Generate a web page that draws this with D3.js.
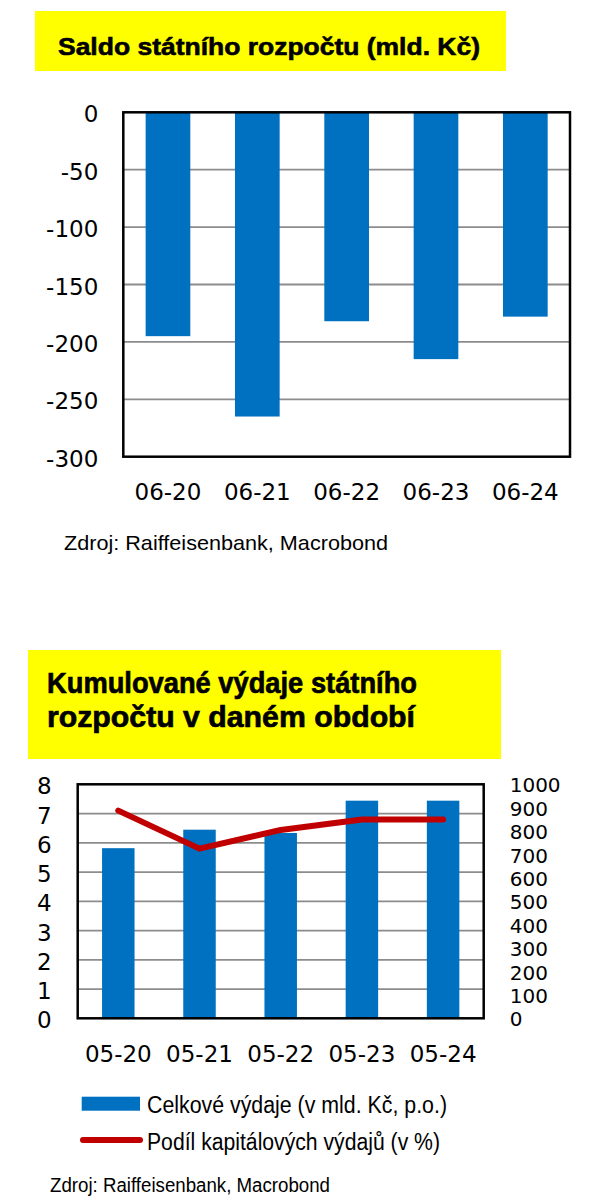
<!DOCTYPE html>
<html><head><meta charset="utf-8">
<script src="https://cdn.jsdelivr.net/npm/d3@7"></script>
<style>body{margin:0;background:#fff}svg{display:block}</style>
</head><body>
<script>
// ---- Data ----
const saldoCategories = ["06-20","06-21","06-22","06-23","06-24"];
const saldoValues = [-195,-265,-182,-215,-178];
const saldoTicks = [0,-50,-100,-150,-200,-250,-300];

const spendCategories = ["05-20","05-21","05-22","05-23","05-24"];
const spendTotals = [727,806,792,930,930];          // right axis, mld. Kč
const capitalShare = [7.1,5.8,6.44,6.8,6.8];        // left axis, %
const leftTicks = [0,1,2,3,4,5,6,7,8];
const rightTicks = [0,100,200,300,400,500,600,700,800,900,1000];

const title1 = "Saldo státního rozpočtu (mld. Kč)";
const title2a = "Kumulované výdaje státního";
const title2b = "rozpočtu v daném období";
const legendBars = "Celkové výdaje (v mld. Kč, p.o.)";
const legendLine = "Podíl kapitálových výdajů (v %)";
const sourceText = "Zdroj: Raiffeisenbank, Macrobond";

const BLUE = "#0070c0", RED = "#c00000", YELLOW = "#ffff00", GRID = "#8c8c8c";
const AX_FONT = "DejaVu Sans";
const TXT_FONT = "Liberation Sans";
const plain = d => String(d);

const svg = d3.select("body").append("svg").attr("width",602).attr("height",1200);

// ---- Chart 1 ----
svg.append("rect").attr("x",35).attr("y",11).attr("width",471).attr("height",60).attr("fill",YELLOW);
svg.append("text").attr("x",58).attr("y",55).text(title1)
  .attr("font-family",TXT_FONT).attr("font-weight","bold").attr("font-size",24.5)
  .attr("stroke","#000").attr("stroke-width",0.6)
  .attr("textLength",422).attr("lengthAdjust","spacingAndGlyphs");

const p1 = {l:123.3, r:570, t:112.3, b:456.7};
const x1 = d3.scaleBand().domain(saldoCategories).range([p1.l,p1.r]).paddingInner(0.5).paddingOuter(0.25);
const y1 = d3.scaleLinear().domain([-300,0]).range([p1.b,p1.t]);

const g1 = svg.append("g");
g1.selectAll("line.grid").data(saldoTicks.filter(d=>d!==0 && d!==-300)).join("line")
  .attr("x1",p1.l).attr("x2",p1.r).attr("y1",d=>y1(d)).attr("y2",d=>y1(d))
  .attr("stroke",GRID).attr("stroke-width",1.8);
g1.selectAll("rect.bar").data(saldoValues).join("rect")
  .attr("x",(d,i)=>x1(saldoCategories[i])).attr("width",x1.bandwidth())
  .attr("y",y1(0)).attr("height",d=>y1(d)-y1(0)).attr("fill",BLUE);
g1.append("rect").attr("x",p1.l).attr("y",p1.t).attr("width",p1.r-p1.l).attr("height",p1.b-p1.t)
  .attr("fill","none").attr("stroke","#000").attr("stroke-width",2.5);

const ay1 = d3.axisLeft(y1).tickValues(saldoTicks).tickFormat(plain).tickSize(0).tickPadding(25);
g1.append("g").attr("transform",`translate(${p1.l},0)`).call(ay1)
  .call(g=>g.select(".domain").remove())
  .selectAll("text").attr("font-family",AX_FONT).attr("font-size",23).attr("fill","#000").attr("dy","0.42em");
const ax1 = d3.axisBottom(x1).tickSize(0).tickPadding(27);
g1.append("g").attr("transform",`translate(0,${p1.b})`).call(ax1)
  .call(g=>g.select(".domain").remove())
  .selectAll("text").attr("font-family",AX_FONT).attr("font-size",23).attr("fill","#000");

svg.append("text").attr("x",64).attr("y",550).text(sourceText)
  .attr("font-family",TXT_FONT).attr("font-size",21)
  .attr("textLength",324).attr("lengthAdjust","spacingAndGlyphs");

// ---- Chart 2 ----
svg.append("rect").attr("x",28).attr("y",650).attr("width",473).attr("height",109).attr("fill",YELLOW);
svg.append("text").attr("x",47).attr("y",693.3).text(title2a)
  .attr("font-family",TXT_FONT).attr("font-weight","bold").attr("font-size",30)
  .attr("stroke","#000").attr("stroke-width",0.7)
  .attr("textLength",370).attr("lengthAdjust","spacingAndGlyphs");
svg.append("text").attr("x",47).attr("y",727.3).text(title2b)
  .attr("font-family",TXT_FONT).attr("font-weight","bold").attr("font-size",30)
  .attr("stroke","#000").attr("stroke-width",0.7)
  .attr("textLength",368).attr("lengthAdjust","spacingAndGlyphs");

const p2 = {l:77.7, r:483.7, t:784.3, b:1018.3};
const x2 = d3.scaleBand().domain(spendCategories).range([p2.l,p2.r]).paddingInner(0.6).paddingOuter(0.3);
const yL = d3.scaleLinear().domain([0,8]).range([p2.b,p2.t]);
const yR = d3.scaleLinear().domain([0,1000]).range([p2.b,p2.t]);

const g2 = svg.append("g");
g2.selectAll("line.grid").data(leftTicks.filter(d=>d>0 && d<8)).join("line")
  .attr("x1",p2.l).attr("x2",p2.r).attr("y1",d=>yL(d)).attr("y2",d=>yL(d))
  .attr("stroke",GRID).attr("stroke-width",1.8);
g2.selectAll("rect.bar").data(spendTotals).join("rect")
  .attr("x",(d,i)=>x2(spendCategories[i])).attr("width",x2.bandwidth())
  .attr("y",d=>yR(d)).attr("height",d=>yR(0)-yR(d)).attr("fill",BLUE);
const line = d3.line().x((d,i)=>x2(spendCategories[i])+x2.bandwidth()/2).y(d=>yL(d));
g2.append("path").datum(capitalShare).attr("d",line).attr("fill","none")
  .attr("stroke",RED).attr("stroke-width",6).attr("stroke-linecap","round").attr("stroke-linejoin","round");
g2.append("rect").attr("x",p2.l).attr("y",p2.t).attr("width",p2.r-p2.l).attr("height",p2.b-p2.t)
  .attr("fill","none").attr("stroke","#000").attr("stroke-width",2.5);

const ayL = d3.axisLeft(yL).tickValues(leftTicks).tickFormat(plain).tickSize(0).tickPadding(26);
g2.append("g").attr("transform",`translate(${p2.l},0)`).call(ayL)
  .call(g=>g.select(".domain").remove())
  .selectAll("text").attr("font-family",AX_FONT).attr("font-size",23).attr("fill","#000").attr("dy","0.42em");
const ayR = d3.axisRight(yR).tickValues(rightTicks).tickFormat(plain).tickSize(0).tickPadding(26);
g2.append("g").attr("transform",`translate(${p2.r},0)`).call(ayR)
  .call(g=>g.select(".domain").remove())
  .selectAll("text").attr("font-family",AX_FONT).attr("font-size",20).attr("fill","#000").attr("dy","0.38em");
const ax2 = d3.axisBottom(x2).tickSize(0).tickPadding(27);
g2.append("g").attr("transform",`translate(0,${p2.b})`).call(ax2)
  .call(g=>g.select(".domain").remove())
  .selectAll("text").attr("font-family",AX_FONT).attr("font-size",23).attr("fill","#000");

// Legend
svg.append("rect").attr("x",81.7).attr("y",1096.7).attr("width",58.3).attr("height",14).attr("fill",BLUE);
svg.append("text").attr("x",147).attr("y",1113).text(legendBars)
  .attr("font-family",TXT_FONT).attr("font-size",23)
  .attr("textLength",300).attr("lengthAdjust","spacingAndGlyphs");
svg.append("line").attr("x1",83).attr("x2",140).attr("y1",1140).attr("y2",1140)
  .attr("stroke",RED).attr("stroke-width",6).attr("stroke-linecap","round");
svg.append("text").attr("x",147).attr("y",1150).text(legendLine)
  .attr("font-family",TXT_FONT).attr("font-size",23)
  .attr("textLength",293).attr("lengthAdjust","spacingAndGlyphs");

svg.append("text").attr("x",50).attr("y",1191.5).text(sourceText)
  .attr("font-family",TXT_FONT).attr("font-size",19.5)
  .attr("textLength",280).attr("lengthAdjust","spacingAndGlyphs");
</script>
</body></html>
